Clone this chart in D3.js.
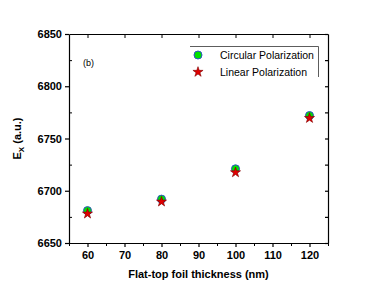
<!DOCTYPE html>
<html>
<head>
<meta charset="utf-8">
<script src="https://cdn.jsdelivr.net/npm/d3@7"></script>
<style>
  body { margin: 0; background: #fff; }
  svg { font-family: 'Liberation Sans', Arial, sans-serif; }
  .tick text { font-weight: bold; font-size: 11px; fill: #000; }
</style>
</head>
<body>
<svg width="382" height="292"></svg>
<script>
const thickness = [60, 80, 100, 120];
const circular = [6681, 6692, 6721, 6772];
const linear = [6678.5, 6690, 6718, 6770];
const xTicks = [60, 70, 80, 90, 100, 110, 120];
const yTicks = [6650, 6700, 6750, 6800, 6850];

const svg = d3.select('svg');
const margin = { left: 69, right: 54, top: 34, bottom: 49 };
const width = 382, height = 292;

const x = d3.scaleLinear().domain([55, 125]).range([margin.left, width - margin.right]);
const y = d3.scaleLinear().domain([6650, 6850]).range([height - margin.bottom, margin.top]);

const minorX = d3.range(55, 126, 5).filter(v => !xTicks.includes(v));
const minorY = d3.range(6650, 6851, 25).filter(v => !yTicks.includes(v));

// bottom axis
svg.append('g')
  .attr('transform', `translate(0,${y(6650)})`)
  .call(d3.axisBottom(x).tickValues(xTicks).tickSize(4).tickPadding(4).tickSizeOuter(0))
  .call(g => g.selectAll('.domain, line').attr('stroke', '#000').attr('stroke-width', 1.2));
svg.append('g')
  .attr('transform', `translate(0,${y(6650)})`)
  .call(d3.axisBottom(x).tickValues(minorX).tickSize(3).tickFormat('').tickSizeOuter(0))
  .call(g => g.select('.domain').remove());

// top axis
svg.append('g')
  .attr('transform', `translate(0,${y(6850)})`)
  .call(d3.axisBottom(x).tickValues(xTicks).tickSize(4).tickFormat('').tickSizeOuter(0))
  .call(g => g.selectAll('.domain, line').attr('stroke', '#000'));

// left axis
svg.append('g')
  .attr('transform', `translate(${x(55)},0)`)
  .call(d3.axisLeft(y).tickValues(yTicks).tickSize(4).tickPadding(3).tickFormat(d3.format('d')).tickSizeOuter(0))
  .call(g => g.selectAll('.domain, line').attr('stroke', '#000').attr('stroke-width', 1.2));
svg.append('g')
  .attr('transform', `translate(${x(55)},0)`)
  .call(d3.axisRight(y).tickValues(minorY).tickSize(3).tickFormat('').tickSizeOuter(0))
  .call(g => g.select('.domain').remove());

// right axis
svg.append('g')
  .attr('transform', `translate(${x(125)},0)`)
  .call(d3.axisLeft(y).tickValues(yTicks.concat(minorY)).tickSize(3).tickFormat('').tickSizeOuter(0))
  .call(g => g.selectAll('.domain, line').attr('stroke', '#000').attr('stroke-width', 1.2));

// axis titles
svg.append('text')
  .attr('x', (x(55) + x(125)) / 2)
  .attr('y', 278)
  .attr('text-anchor', 'middle')
  .attr('font-weight', 'bold')
  .attr('font-size', 11)
  .text('Flat-top foil thickness (nm)');

const yl = svg.append('text')
  .attr('transform', `translate(21,${(y(6650) + y(6850)) / 2}) rotate(-90)`)
  .attr('text-anchor', 'middle')
  .attr('font-weight', 'bold')
  .attr('font-size', 11);
yl.append('tspan').text('E');
yl.append('tspan').attr('font-size', 8).attr('dy', 3).text('X');
yl.append('tspan').attr('dy', -3).text('  (a.u.)');

svg.append('text')
  .attr('x', 83).attr('y', 66)
  .attr('font-size', 9)
  .text('(b)');

const star = d3.symbol().type(d3.symbolStar).size(32);

// points
svg.append('g').selectAll('circle')
  .data(thickness)
  .join('circle')
  .attr('cx', d => x(d))
  .attr('cy', (d, i) => y(circular[i]))
  .attr('r', 4)
  .attr('fill', '#00e000')
  .attr('stroke', '#3050c8')
  .attr('stroke-width', 1);

svg.append('g').selectAll('path')
  .data(thickness)
  .join('path')
  .attr('d', star)
  .attr('transform', (d, i) => `translate(${x(d)},${y(linear[i]) + 0.5})`)
  .attr('fill', '#e00000')
  .attr('stroke', '#800000')
  .attr('stroke-width', 0.6);

// legend
const lg = svg.append('g');
lg.append('path')
  .attr('d', 'M190,46.5 H318.5 V77')
  .attr('fill', 'none')
  .attr('stroke', '#333')
  .attr('stroke-width', 0.8);
lg.append('circle')
  .attr('cx', 198).attr('cy', 55).attr('r', 4)
  .attr('fill', '#00e000').attr('stroke', '#3050c8');
lg.append('path')
  .attr('d', star)
  .attr('transform', 'translate(198,72)')
  .attr('fill', '#e00000').attr('stroke', '#800000').attr('stroke-width', 0.6);
lg.append('text').attr('x', 220).attr('y', 59).attr('font-size', 10.5).text('Circular Polarization');
lg.append('text').attr('x', 220).attr('y', 76).attr('font-size', 10.5).text('Linear Polarization');
</script>
</body>
</html>
